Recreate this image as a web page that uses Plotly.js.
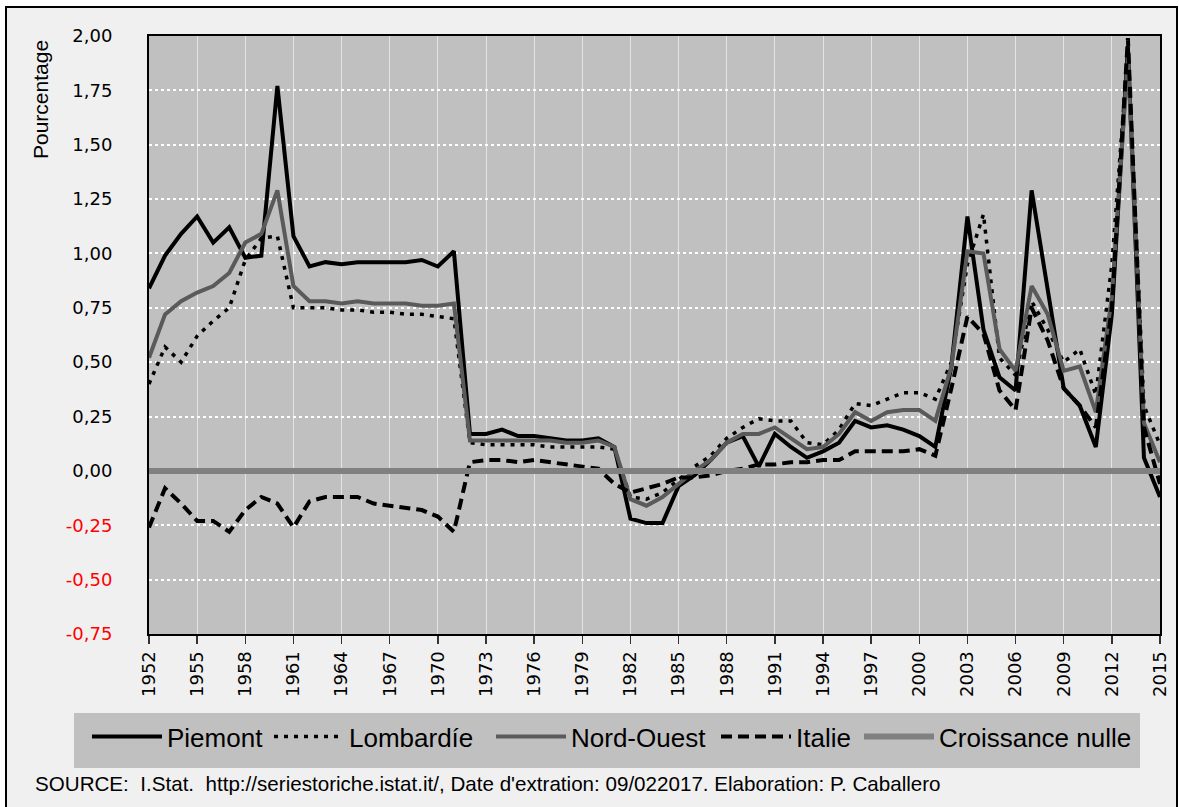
<!DOCTYPE html>
<html>
<head>
<meta charset="utf-8">
<script src="https://cdn.plot.ly/plotly-3.0.1.min.js"></script>
<style>html,body{margin:0;padding:0;background:#fff;}#chart{width:1179px;height:807px;}</style>
</head>
<body>
<div id="chart"></div>
<script>
const years = [1952,1953,1954,1955,1956,1957,1958,1959,1960,1961,1962,1963,1964,1965,1966,1967,1968,1969,1970,1971,
1972,1973,1974,1975,1976,1977,1978,1979,1980,1981,1982,1983,1984,1985,1986,1987,1988,1989,1990,1991,
1992,1993,1994,1995,1996,1997,1998,1999,2000,2001,2002,2003,2004,2005,2006,2007,2008,2009,2010,2011,
2012,2013,2014,2015];

const piemont = [0.84,0.99,1.09,1.17,1.05,1.12,0.98,0.99,1.77,1.08,0.94,0.96,0.95,0.96,0.96,0.96,0.96,0.97,0.94,1.01,
0.17,0.17,0.19,0.16,0.16,0.15,0.14,0.14,0.15,0.11,-0.22,-0.24,-0.24,-0.07,-0.02,0.05,0.13,0.16,0.02,0.17,
0.11,0.06,0.09,0.13,0.23,0.20,0.21,0.19,0.16,0.11,0.48,1.17,0.65,0.43,0.37,1.29,0.83,0.38,0.30,0.11,
0.72,1.95,0.06,-0.12];

const lombardie = [0.40,0.57,0.50,0.62,0.69,0.75,0.97,1.07,1.08,0.75,0.75,0.75,0.74,0.74,0.73,0.73,0.72,0.72,0.71,0.70,
0.13,0.12,0.12,0.12,0.12,0.11,0.11,0.11,0.11,0.10,-0.12,-0.13,-0.10,-0.04,0.02,0.07,0.15,0.20,0.24,0.23,
0.23,0.13,0.12,0.19,0.31,0.30,0.33,0.36,0.36,0.33,0.50,0.95,1.18,0.52,0.44,0.78,0.65,0.50,0.56,0.35,
0.95,1.93,0.30,0.12];

const nordOuest = [0.52,0.72,0.78,0.82,0.85,0.91,1.05,1.09,1.29,0.85,0.78,0.78,0.77,0.78,0.77,0.77,0.77,0.76,0.76,0.77,
0.14,0.14,0.14,0.14,0.14,0.14,0.13,0.13,0.14,0.11,-0.13,-0.16,-0.12,-0.06,0.00,0.05,0.13,0.17,0.17,0.20,
0.15,0.10,0.11,0.17,0.27,0.23,0.27,0.28,0.28,0.23,0.48,1.01,1.00,0.56,0.46,0.85,0.72,0.46,0.48,0.27,
0.80,1.90,0.22,0.04];

const italie = [-0.26,-0.08,-0.15,-0.23,-0.23,-0.28,-0.18,-0.12,-0.15,-0.26,-0.14,-0.12,-0.12,-0.12,-0.15,-0.16,-0.17,-0.18,-0.21,-0.28,
0.04,0.05,0.05,0.04,0.05,0.04,0.03,0.02,0.01,-0.06,-0.10,-0.08,-0.06,-0.03,-0.03,-0.02,0.00,0.01,0.03,0.03,
0.04,0.04,0.05,0.05,0.09,0.09,0.09,0.09,0.10,0.07,0.38,0.71,0.63,0.37,0.28,0.75,0.60,0.38,0.30,0.20,
0.75,1.99,0.20,-0.06];

const croissanceNulle = [0,0,0,0,0,0,0,0,0,0,0,0,0,0,0,0,0,0,0,0,
0,0,0,0,0,0,0,0,0,0,0,0,0,0,0,0,0,0,0,0,
0,0,0,0,0,0,0,0,0,0,0,0,0,0,0,0,0,0,0,0,
0,0,0,0];

const yTickVals = [-0.75,-0.5,-0.25,0,0.25,0.5,0.75,1,1.25,1.5,1.75,2];
const yTickText = ['-0,75','-0,50','-0,25','0,00','0,25','0,50','0,75','1,00','1,25','1,50','1,75','2,00'];

const seriesNames = ['Piemont','Lombardíe','Nord-Ouest','Italie','Croissance nulle'];
const sourceText = "SOURCE:  I.Stat.  http://seriestoriche.istat.it/, Date d'extration: 09/022017. Elaboration: P. Caballero";
const yTitle = 'Pourcentage';

const arial = '"Liberation Sans", Arial, sans-serif';
const tickFont = {family: '"DejaVu Sans", sans-serif', size: 18, color: '#000'};

const ticktext = yTickText.map((t, i) => yTickVals[i] < 0 ? '<span style="color:#ff0000">' + t + '</span>' : t);

const legendIds = ['legend', 'legend2', 'legend3', 'legend4', 'legend5'];

const traces = [
  {x: years, y: piemont, name: seriesNames[0], legend: legendIds[0], mode: 'lines', line: {color: '#000000', width: 4}},
  {x: years, y: lombardie, name: seriesNames[1], legend: legendIds[1], mode: 'lines', line: {color: '#000000', width: 3.5, dash: '4px,6px'}},
  {x: years, y: nordOuest, name: seriesNames[2], legend: legendIds[2], mode: 'lines', line: {color: '#5a5a5a', width: 4}},
  {x: years, y: italie, name: seriesNames[3], legend: legendIds[3], mode: 'lines', line: {color: '#000000', width: 4, dash: '11px,6px'}},
  {x: years, y: croissanceNulle, name: seriesNames[4], legend: legendIds[4], mode: 'lines', line: {color: '#808080', width: 6}}
];

const L = 149, R = 1160, T = 36, B = 634;
const px = v => (v - L) / (R - L);
const py = v => (B - v) / (B - T);

const layout = {
  width: 1179, height: 807,
  margin: {l: L, r: 1179 - R, t: T, b: 807 - B, pad: 0},
  paper_bgcolor: '#f0f0f0',
  plot_bgcolor: '#c0c0c0',
  showlegend: true,
  hovermode: false,
  xaxis: {
    range: [1952, 2015], tick0: 1952, dtick: 3, tickmode: 'linear',
    tickangle: -90, tickfont: tickFont,
    ticks: 'outside', ticklen: 8, tickwidth: 1.5, tickcolor: '#333',
    showgrid: true, gridcolor: '#e4e4e4', gridwidth: 1,
    showline: true, linecolor: '#000', linewidth: 2, mirror: true,
    zeroline: false, fixedrange: true
  },
  yaxis: {
    range: [-0.75, 2.0], tickmode: 'array', tickvals: yTickVals, ticktext: ticktext,
    tickfont: tickFont, ticks: '', ticklabelstandoff: 31,
    showgrid: true, gridcolor: '#ffffff', gridwidth: 2, griddash: 'dot',
    showline: true, linecolor: '#000', linewidth: 2, mirror: true,
    zeroline: false, fixedrange: true
  },
  shapes: [
    {type: 'rect', xref: 'paper', yref: 'paper', x0: px(-5), x1: px(1185), y0: py(7), y1: py(-5), fillcolor: '#ffffff', line: {width: 0}},
    {type: 'rect', xref: 'paper', yref: 'paper', x0: px(-5), x1: px(6), y0: py(820), y1: py(-5), fillcolor: '#ffffff', line: {width: 0}},
    {type: 'rect', xref: 'paper', yref: 'paper', x0: px(1177), x1: px(1185), y0: py(820), y1: py(-5), fillcolor: '#ffffff', line: {width: 0}},
    {type: 'rect', xref: 'paper', yref: 'paper', x0: px(6), x1: px(1177), y0: py(830), y1: py(7), fillcolor: 'rgba(0,0,0,0)', line: {color: '#000', width: 2}},
    {type: 'rect', xref: 'paper', yref: 'paper', x0: px(74), x1: px(1140), y0: py(768), y1: py(713), fillcolor: '#c0c0c0', line: {width: 0}}
  ],
  annotations: [
    {text: yTitle, xref: 'paper', yref: 'paper', x: px(40), y: py(100), xanchor: 'center', yanchor: 'middle',
     textangle: -90, showarrow: false, font: {family: arial, size: 21, color: '#000'}},
    {text: sourceText, xref: 'paper', yref: 'paper', x: px(33), y: py(783), xanchor: 'left', yanchor: 'middle',
     showarrow: false, font: {family: arial, size: 20.6, color: '#000'}}
  ]
};

const legendLeft = [87, 269, 491, 716, 859];
legendIds.forEach((id, i) => {
  layout[id] = {
    orientation: 'h', x: px(legendLeft[i]), y: py(713), xanchor: 'left', yanchor: 'top',
    bgcolor: 'rgba(0,0,0,0)', borderwidth: 0, itemwidth: 70,
    font: {family: arial, size: 26, color: '#000'}
  };
});

Plotly.newPlot('chart', traces, layout, {staticPlot: true, displayModeBar: false});
</script>
</body>
</html>
